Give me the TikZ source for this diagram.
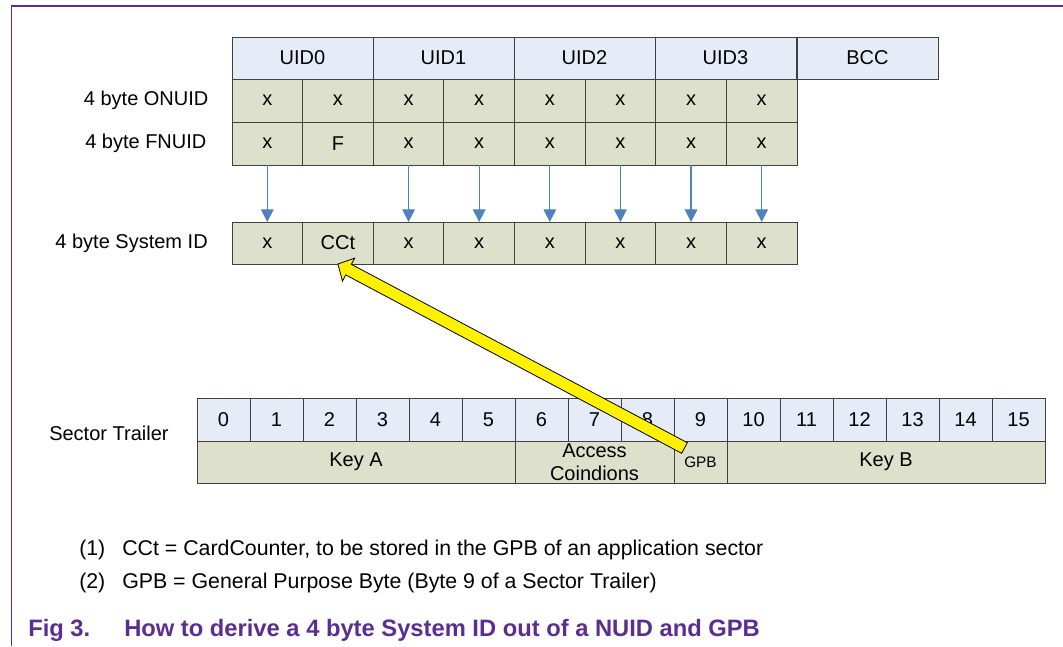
\documentclass[tikz,border=0pt]{standalone}
\usepackage{fontspec}
\setmainfont{Liberation Sans}
\usepackage{tikz}
\usetikzlibrary{arrows.meta,positioning,calc}
\definecolor{hdrblue}{RGB}{230,236,247}
\definecolor{cellgreen}{RGB}{221,224,203}
\definecolor{arrowblue}{RGB}{79,129,189}
\definecolor{nxppurple}{RGB}{92,45,145}
\definecolor{edgegray}{RGB}{64,64,64}
\tikzstyle{hdr} = [rectangle, draw=edgegray, fill=hdrblue, line width=0.7pt, inner sep=0pt, outer sep=0pt, minimum height=31.5pt, text centered, font=\fontsize{15}{17.25}\selectfont]
\tikzstyle{cell} = [hdr, fill=cellgreen]
\tikzstyle{lbl} = [inner sep=0pt, font=\fontsize{15}{17.25}\selectfont]
\tikzstyle{note} = [anchor=base west, inner sep=0pt, font=\fontsize{16}{19}\selectfont]
\tikzstyle{figcap} = [anchor=base west, inner sep=0pt, text=nxppurple, font=\fontsize{17.8}{21}\selectfont\bfseries]
\tikzstyle{arrow} = [line width=0.9pt, draw=arrowblue, -{Triangle[width=9.5pt,length=9.5pt,fill=arrowblue]}]
\tikzstyle{bigarrow} = [fill=yellow, draw=black, line width=0.6pt, line join=miter]

\begin{document}
\begin{tikzpicture}[x=0.75pt, y=-0.75pt]
\useasboundingbox (0,0) rectangle (1063,646);
% page frame
\draw[nxppurple, line width=1.2pt] (11.5,646) -- (11.5,6) -- (1063,6);

% UID bytes
\foreach \i in {0,...,3}
  \node (uid\i) [hdr, minimum width=105.75pt] at ({232+141*\i+70.5},58) {UID\i};
\node (bcc) [hdr, minimum width=105.75pt] at (867.5,58) {BCC};

% ONUID, FNUID and System ID rows
\foreach \j/\f/\s in {1/x/x,2/F/CCt,3/x/x,4/x/x,5/x/x,6/x/x,7/x/x,8/x/x} {
  \node (on\j) [cell, minimum width=52.97pt, minimum height=32.25pt] at ({232+70.625*(\j-0.5)},100.5) {x};
  \node (fn\j) [cell, minimum width=52.97pt, minimum height=32.25pt] at ({232+70.625*(\j-0.5)},143.5) {\f};
  \node (sys\j) [cell, minimum width=52.97pt] at ({232+70.625*(\j-0.5)},243) {\s};
}
\node (lonuid) [lbl, left=17.5pt of on1] {4 byte ONUID};
\node (lfnuid) [lbl, left=19pt of fn1] {4 byte FNUID};
\node (lsys) [lbl, left=18pt of sys1] {4 byte System ID};

\foreach \j in {1,3,4,5,6,7,8}
  \draw [arrow] (fn\j.south) -- (sys\j.north);

% sector trailer
\foreach \k in {0,...,15}
  \node (st\k) [hdr, minimum width=39.75pt, minimum height=32.25pt] at ({197+53*\k+26.5},419.5) {\k};
\node (keya) [cell, minimum width=238.5pt] at (356,462) {Key A};
\node (acc) [cell, minimum width=119.25pt, align=center] at (594.5,462) {Access\\Coindions};
\node (gpb) [cell, minimum width=39.75pt, font=\fontsize{11.5}{13}\selectfont] at (700.5,462) {GPB};
\node (keyb) [cell, minimum width=238.5pt] at (886,462) {Key B};
\node (lst) [lbl, anchor=west] at (49,433) {Sector Trailer};

% CCt comes from the GPB
\coordinate (ytip) at (sys2.south);
\coordinate (ytail) at ($(gpb.north west)+(10.5,7)$);
\draw [bigarrow] (ytip)
  -- ($(ytip)!9pt!(ytail)!9.75pt!90:(ytail)$)
  -- ($(ytip)!9pt!(ytail)!4.5pt!90:(ytail)$)
  -- ($(ytail)!4.5pt!-90:(ytip)$)
  -- ($(ytail)!4.5pt!90:(ytip)$)
  -- ($(ytip)!9pt!(ytail)!4.5pt!-90:(ytail)$)
  -- ($(ytip)!9pt!(ytail)!9.75pt!-90:(ytail)$)
  -- cycle;

% notes and caption
\node (note1) [note] at (79,555) {(1)};
\node (note1t) [note] at (122,555) {CCt = CardCounter, to be stored in the GPB of an application sector};
\node (note2) [note] at (79,588) {(2)};
\node (note2t) [note] at (122,588) {GPB = General Purpose Byte (Byte 9 of a Sector Trailer)};
\node (figno) [figcap] at (28,636) {Fig 3.};
\node (figtitle) [figcap] at (124,636) {How to derive a 4 byte System ID out of a NUID and GPB};
\end{tikzpicture}
\end{document}
